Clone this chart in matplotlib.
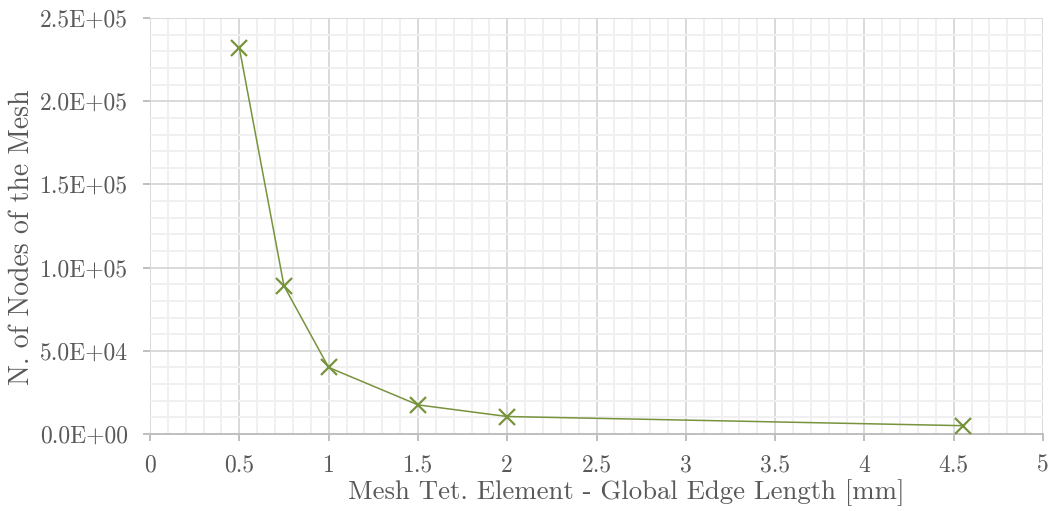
import numpy as np
import matplotlib.pyplot as plt
from matplotlib.ticker import MultipleLocator, FixedLocator, FixedFormatter

# Mesh convergence: edge length vs node count
edge_length_mm = [0.5, 0.75, 1.0, 1.5, 2.0, 4.55]
n_nodes = [232000, 89000, 40000, 17500, 10500, 5000]

x_ticks = [0, 0.5, 1, 1.5, 2, 2.5, 3, 3.5, 4, 4.5, 5]
x_tick_labels = ['0', '0.5', '1', '1.5', '2', '2.5', '3', '3.5', '4', '4.5', '5']
y_ticks = [0, 50000, 100000, 150000, 200000, 250000]
y_tick_labels = ['0.0E+00', '5.0E+04', '1.0E+05', '1.5E+05', '2.0E+05', '2.5E+05']

plt.rcParams['font.family'] = ['cmr10', 'DejaVu Serif']
plt.rcParams['axes.formatter.use_mathtext'] = True

text_color = '#595959'
line_color = '#77933C'

fig = plt.figure(figsize=(10.53, 5.11), dpi=100)
ax = fig.add_axes([0.1425, 0.1507, 0.848, 0.814])

ax.plot(edge_length_mm, n_nodes, color=line_color, linewidth=1.1,
        marker='x', markersize=11, markeredgewidth=1.6, zorder=3)

ax.set_xlim(0, 5)
ax.set_ylim(0, 250000)

ax.xaxis.set_major_locator(FixedLocator(x_ticks))
ax.xaxis.set_major_formatter(FixedFormatter(x_tick_labels))
ax.yaxis.set_major_locator(FixedLocator(y_ticks))
ax.yaxis.set_major_formatter(FixedFormatter(y_tick_labels))
ax.xaxis.set_minor_locator(MultipleLocator(0.1))
ax.yaxis.set_minor_locator(MultipleLocator(10000))

ax.grid(which='major', color='#d9d9d9', linewidth=1.4, zorder=1)
ax.grid(which='minor', color='#f0f0f0', linewidth=1.4, zorder=0)
ax.set_axisbelow(True)

for side in ('top', 'right', 'left'):
    ax.spines[side].set_visible(False)
ax.spines['bottom'].set_color('#bfbfbf')
ax.spines['bottom'].set_linewidth(1.4)

ax.tick_params(which='major', axis='x', length=5, width=1.4, color='#bfbfbf',
               labelsize=17, labelcolor=text_color, pad=10)
ax.tick_params(which='major', axis='y', length=5, width=1.4, color='#bfbfbf',
               labelsize=17, labelcolor=text_color, pad=11)
ax.tick_params(which='minor', length=0)

# axis titles sit slightly off-centre, as placed by the original chart
fig.text(626 / 1053, 1 - 493 / 511, 'Mesh Tet. Element - Global Edge Length [mm]',
         fontsize=19.3, color=text_color, ha='center', va='center')
fig.text(22 / 1053, 1 - 237 / 511, 'N. of Nodes of the Mesh',
         fontsize=20, color=text_color, ha='center', va='center', rotation=90)

fig.savefig('out.png', dpi=100)
